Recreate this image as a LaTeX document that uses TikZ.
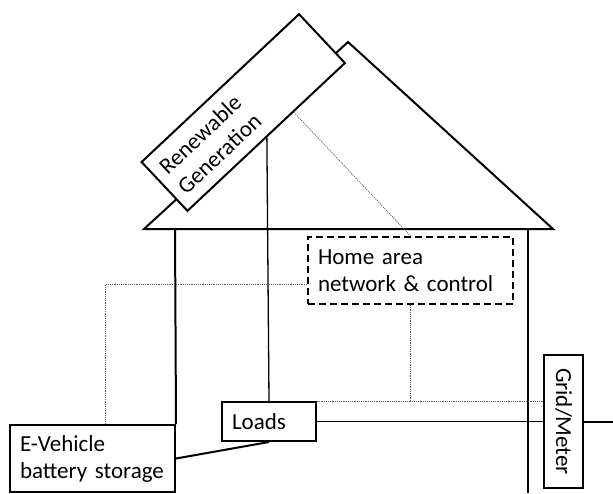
\documentclass[tikz,border=0pt]{standalone}
\usepackage{fontspec}
\setmainfont{Carlito}
\usetikzlibrary{calc}

\tikzset{
  part/.style={draw, line width=2pt, fill=white, inner xsep=10pt, inner ysep=4pt, align=left},
  wire/.style={line width=1.3pt},
  heavy/.style={line width=2pt},
  link/.style={gray!70!black, line width=0.7pt, dash pattern=on 1.2pt off 1pt},
}

\begin{document}
\begin{tikzpicture}[x=1pt, y=-1pt, font=\fontsize{23}{27}\selectfont]
        \useasboundingbox (0,0) rectangle (613,493);

        % house
        \draw[heavy, line join=miter] (144,229) -- (348,42) -- (553,229) -- cycle;

        \node[part, rotate=43.2, text width=196pt, minimum height=67pt] (ren) at (243.25,112.5) {Renewable\\Generation};
        \node[part, dash pattern=on 7pt off 4pt, text width=185pt, minimum height=67pt] (han) at (410.5,270.5) {Home area\\network \& control};
        \node[part, text width=74pt, minimum height=39pt] (loads) at (269,421.5) {Loads};
        \node[part, text width=145pt, minimum height=67pt] (ev) at (92.5,458.5) {E-Vehicle\\battery storage};
        \node[part, align=center, inner sep=2pt, rotate=-90, minimum width=133pt, minimum height=39pt] (grid) at (563.5,421.5) {Grid/Meter};
        \coordinate (mains) at (613,421.5);

        \draw[heavy] (175,229) -- (ev.north east);
        \draw[heavy] (528,229) -- (528,493);

        \draw[wire] (ren.south) -- (loads.north);
        \draw[wire] (loads.east) -- (loads.east -| grid.south);
        \draw[heavy] (grid.north) -- (mains);
        \draw[heavy] (loads.south) -- (ev.east);

        \draw[link] ($(ren.south west)!0.67!(ren.south east)$) -- (han.north);
        \draw[link] ($(han.south west)!0.3!(han.north west)$) -| ($(ev.north west)!0.576!(ev.north east)$);
        \draw[link] (han.south) -- (han.south |- loads.north east);
        \draw[link] (loads.north east) -- (loads.north east -| grid.south);
    \end{tikzpicture}
\end{document}
